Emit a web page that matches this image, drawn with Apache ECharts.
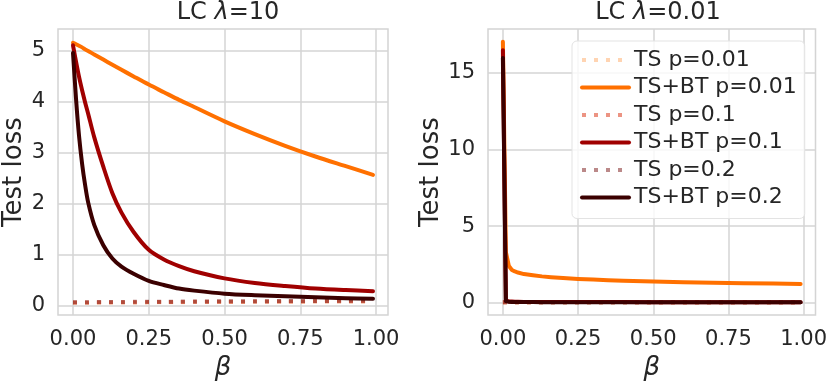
<!DOCTYPE html>
<html>
<head>
<meta charset="utf-8">
<script src="https://cdn.jsdelivr.net/npm/echarts@6/dist/echarts.min.js"></script>
<style>
  html, body { margin: 0; padding: 0; background: #fff; }
  #chart { width: 830px; height: 386px; }
</style>
</head>
<body>
<div id="chart"></div>
<script>
// beta grid shared by every curve
var beta = [0, 0.01, 0.02, 0.03, 0.04, 0.05, 0.07, 0.1, 0.13, 0.16, 0.2, 0.25, 0.3, 0.35, 0.4, 0.5, 0.6, 0.7, 0.8, 0.9, 0.99];

// LC lambda=10 (left)
var tsP001_l10   = [0.05, 0.05, 0.05, 0.05, 0.05, 0.05, 0.05, 0.05, 0.055, 0.055, 0.055, 0.06, 0.06, 0.06, 0.065, 0.065, 0.07, 0.07, 0.075, 0.075, 0.08];
var tsbtP001_l10 = [5.15, 5.12, 5.09, 5.06, 5.02, 4.99, 4.92, 4.82, 4.72, 4.62, 4.49, 4.33, 4.18, 4.03, 3.89, 3.61, 3.36, 3.13, 2.92, 2.73, 2.56];
var tsP01_l10    = [0.055, 0.055, 0.055, 0.055, 0.055, 0.055, 0.06, 0.06, 0.06, 0.06, 0.06, 0.065, 0.065, 0.065, 0.07, 0.07, 0.075, 0.075, 0.08, 0.08, 0.085];
var tsbtP01_l10  = [5.10, 4.78, 4.48, 4.22, 3.98, 3.76, 3.30, 2.72, 2.20, 1.82, 1.44, 1.09, 0.90, 0.77, 0.67, 0.53, 0.44, 0.38, 0.33, 0.30, 0.28];
var tsP02_l10    = [0.06, 0.06, 0.06, 0.06, 0.06, 0.06, 0.065, 0.065, 0.065, 0.065, 0.07, 0.07, 0.07, 0.075, 0.075, 0.08, 0.08, 0.085, 0.085, 0.09, 0.09];
var tsbtP02_l10  = [4.95, 4.05, 3.32, 2.78, 2.36, 2.02, 1.58, 1.18, 0.92, 0.76, 0.62, 0.48, 0.40, 0.33, 0.29, 0.23, 0.20, 0.18, 0.16, 0.14, 0.13];

// LC lambda=0.01 (right)
var tsP001_l001   = [0.03, 0.03, 0.03, 0.03, 0.03, 0.03, 0.03, 0.03, 0.03, 0.03, 0.03, 0.03, 0.03, 0.03, 0.03, 0.03, 0.03, 0.03, 0.03, 0.03, 0.03];
var tsbtP001_l001 = [17.0, 3.30, 2.40, 2.15, 2.05, 1.98, 1.88, 1.80, 1.73, 1.68, 1.62, 1.56, 1.52, 1.48, 1.45, 1.40, 1.35, 1.32, 1.29, 1.26, 1.24];
var tsP01_l001    = [0.04, 0.04, 0.04, 0.04, 0.04, 0.04, 0.04, 0.04, 0.04, 0.04, 0.04, 0.04, 0.04, 0.04, 0.04, 0.04, 0.04, 0.04, 0.04, 0.04, 0.04];
var tsbtP01_l001  = [16.45, 0.15, 0.10, 0.09, 0.08, 0.08, 0.07, 0.07, 0.07, 0.06, 0.06, 0.06, 0.06, 0.06, 0.06, 0.05, 0.05, 0.05, 0.05, 0.05, 0.05];
var tsP02_l001    = [0.05, 0.05, 0.05, 0.05, 0.05, 0.05, 0.05, 0.05, 0.05, 0.05, 0.05, 0.05, 0.05, 0.05, 0.05, 0.05, 0.05, 0.05, 0.05, 0.05, 0.05];
var tsbtP02_l001  = [15.95, 0.12, 0.08, 0.07, 0.07, 0.06, 0.06, 0.06, 0.05, 0.05, 0.05, 0.05, 0.05, 0.05, 0.05, 0.05, 0.04, 0.04, 0.04, 0.04, 0.04];

var xTicks = [0, 0.25, 0.5, 0.75, 1];
var yTicksLeft = [0, 1, 2, 3, 4, 5];
var yTicksRight = [0, 5, 10, 15];

var names = ['TS p=0.01', 'TS+BT p=0.01', 'TS p=0.1', 'TS+BT p=0.1', 'TS p=0.2', 'TS+BT p=0.2'];
var colors = ['rgba(255,112,0,0.3)', '#ff7000', 'rgba(220,60,30,0.55)', '#a00000', 'rgba(120,20,20,0.5)', '#3b0000'];
var dotted = [true, false, true, false, true, false];

var txt = '#262626';
var gridCol = '#d4d4d4';
var font = 'DejaVu Sans';

function pairs(ys) {
  return beta.map(function (b, i) { return [b, ys[i]]; });
}

function mkSeries(idx, ys, gi) {
  return {
    name: names[idx],
    type: 'line',
    xAxisIndex: gi,
    yAxisIndex: gi,
    data: pairs(ys),
    showSymbol: false,
    symbol: 'none',
    smooth: gi === 0 ? 0.3 : false,
    animation: false,
    lineStyle: {
      color: colors[idx],
      width: 4,
      type: dotted[idx] ? [4, 8] : 'solid',
      cap: dotted[idx] ? 'butt' : 'round',
      join: 'round'
    },
    itemStyle: { color: colors[idx] }
  };
}

function xAx(gi) {
  return {
    type: 'value', gridIndex: gi, min: -0.0495, max: 1.0395,
    name: 'β', nameLocation: 'middle', nameGap: 37,
    nameTextStyle: { fontFamily: font, fontSize: 26, fontStyle: 'italic', color: txt },
    axisLine: { show: false }, axisTick: { show: false, customValues: xTicks },
    axisLabel: { customValues: xTicks, margin: 14, fontFamily: font, fontSize: 21, color: txt,
      formatter: function (v) { return v.toFixed(2); } },
    splitLine: { show: true, lineStyle: { color: gridCol, width: 1.5 } }
  };
}

function yAx(gi, mn, mx, ticks) {
  return {
    type: 'value', gridIndex: gi, min: mn, max: mx,
    name: 'Test loss', nameLocation: 'middle', nameGap: gi === 0 ? 31 : 43,
    nameTextStyle: { fontFamily: font, fontSize: 26, color: txt },
    axisLine: { show: false }, axisTick: { show: false, customValues: ticks },
    axisLabel: { customValues: ticks, margin: 13, fontFamily: font, fontSize: 21, color: txt },
    splitLine: { show: true, lineStyle: { color: gridCol, width: 1.5 } }
  };
}

var chart = echarts.init(document.getElementById('chart'), null, { renderer: 'canvas' });

var series = [
  mkSeries(0, tsP001_l10, 0), mkSeries(1, tsbtP001_l10, 0),
  mkSeries(2, tsP01_l10, 0), mkSeries(3, tsbtP01_l10, 0),
  mkSeries(4, tsP02_l10, 0), mkSeries(5, tsbtP02_l10, 0),
  mkSeries(0, tsP001_l001, 1), mkSeries(1, tsbtP001_l001, 1),
  mkSeries(2, tsP01_l001, 1), mkSeries(3, tsbtP01_l001, 1),
  mkSeries(4, tsP02_l001, 1), mkSeries(5, tsbtP02_l001, 1)
];

var titleStyle = {
  fontFamily: font, fontSize: 24, fontWeight: 'normal', color: txt,
  rich: { i: { fontFamily: font, fontSize: 24, fontStyle: 'italic', color: txt } }
};

chart.setOption({
  animation: false,
  backgroundColor: '#fff',
  title: [
    { text: 'LC {i|λ}=10', left: 223, top: -4, textAlign: 'center', textStyle: titleStyle },
    { text: 'LC {i|λ}=0.01', left: 653, top: -4, textAlign: 'center', textStyle: titleStyle }
  ],
  grid: [
    { left: 58, top: 29, width: 330, height: 290, show: true, borderColor: gridCol, borderWidth: 1.5, backgroundColor: 'transparent' },
    { left: 488, top: 29, width: 330, height: 290, show: true, borderColor: gridCol, borderWidth: 1.5, backgroundColor: 'transparent' }
  ],
  xAxis: [xAx(0), xAx(1)],
  yAxis: [yAx(0, -0.19, 5.42, yTicksLeft), yAx(1, -0.79, 17.83, yTicksRight)],
  legend: {
    data: names,
    orient: 'vertical',
    left: 572, top: 41,
    padding: [8, 8, 10, 8],
    itemWidth: 47, itemHeight: 14, itemGap: 5.5,
    itemStyle: { opacity: 0 },
    lineStyle: { width: 4 },
    backgroundColor: 'rgba(255,255,255,0.8)',
    borderColor: '#e3e3e3', borderWidth: 1, borderRadius: 5,
    textStyle: { fontFamily: font, fontSize: 22, lineHeight: 22, color: txt }
  },
  series: series
});
</script>
</body>
</html>
